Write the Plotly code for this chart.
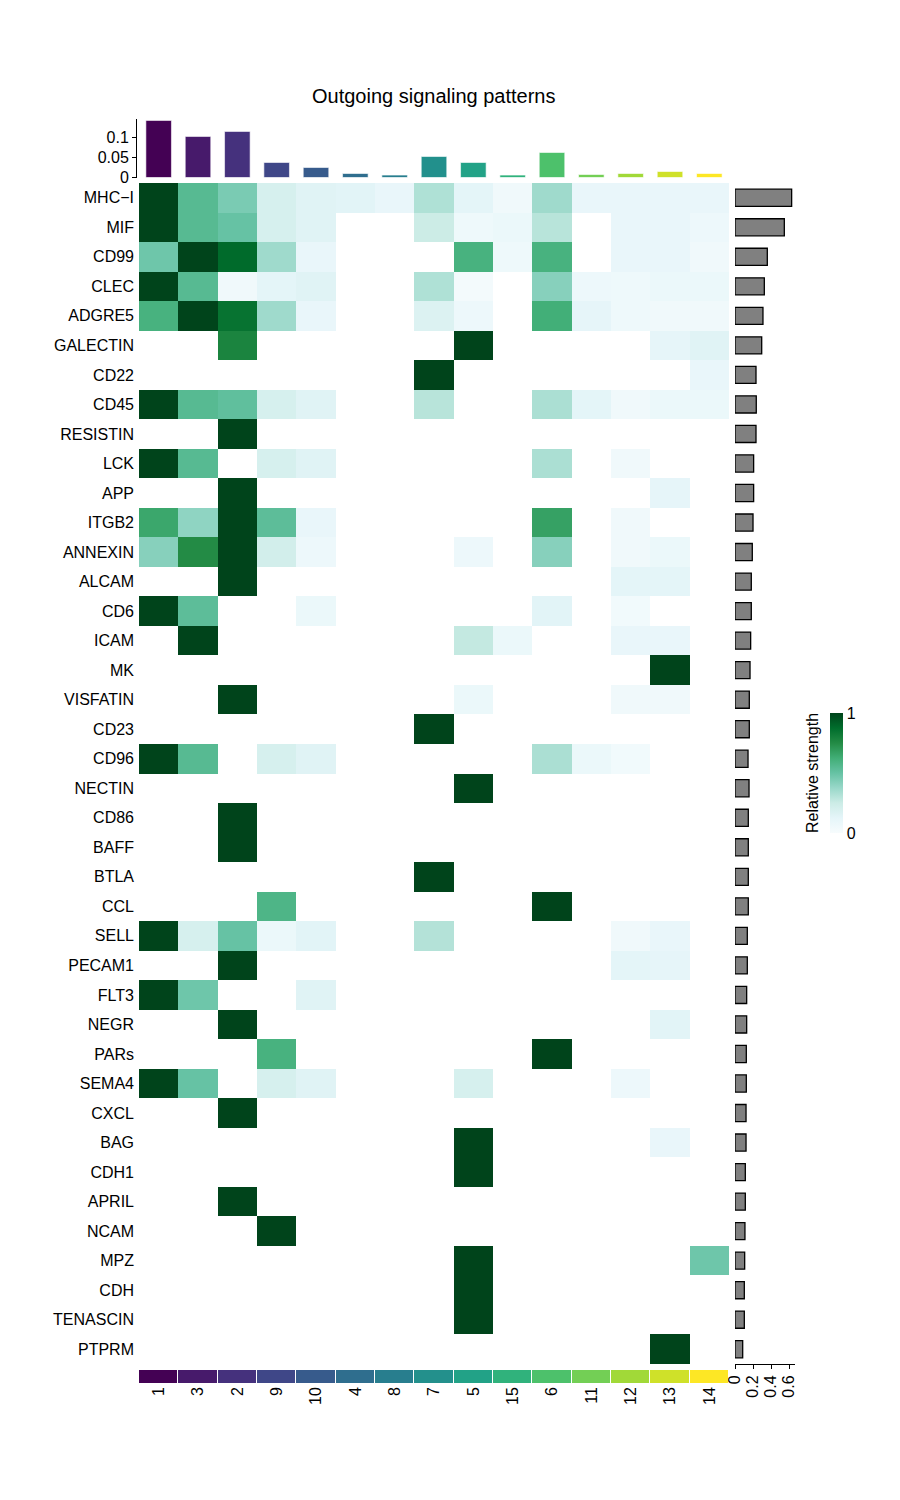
import plotly.graph_objects as go
from plotly.colors import sample_colorscale

# ---------------- data ----------------
clusters = ["1", "3", "2", "9", "10", "4", "8", "7", "5", "15", "6", "11", "12", "13", "14"]

pathways = ["MHC−I", "MIF", "CD99", "CLEC", "ADGRE5", "GALECTIN", "CD22", "CD45", "RESISTIN",
            "LCK", "APP", "ITGB2", "ANNEXIN", "ALCAM", "CD6", "ICAM", "MK", "VISFATIN", "CD23",
            "CD96", "NECTIN", "CD86", "BAFF", "BTLA", "CCL", "SELL", "PECAM1", "FLT3", "NEGR",
            "PARs", "SEMA4", "CXCL", "BAG", "CDH1", "APRIL", "NCAM", "MPZ", "CDH", "TENASCIN",
            "PTPRM"]

# total outgoing strength per cluster (top bars)
cluster_strength = [0.1425, 0.1025, 0.115, 0.0375, 0.025, 0.01, 0.006, 0.0525,
                    0.0375, 0.006, 0.0625, 0.0075, 0.01, 0.015, 0.01]

# total strength per pathway (right bars)
pathway_strength = [0.626, 0.545, 0.357, 0.324, 0.309, 0.295, 0.232, 0.235, 0.232,
                    0.206, 0.206, 0.199, 0.191, 0.18, 0.18, 0.173, 0.166, 0.158, 0.158,
                    0.144, 0.155, 0.147, 0.147, 0.147, 0.147, 0.136, 0.136, 0.129, 0.129,
                    0.125, 0.125, 0.122, 0.122, 0.114, 0.114, 0.11, 0.107, 0.103, 0.103,
                    0.085]

# relative strength (rows = pathways, columns = clusters in the order above); 0 = blank
relative_strength = [
    [1.0, 0.55, 0.45, 0.2, 0.15, 0.14, 0.1, 0.32, 0.13, 0.05, 0.36, 0.1, 0.1, 0.1, 0.1],   # MHC-I
    [1.0, 0.55, 0.5, 0.2, 0.15, 0, 0, 0.25, 0.06, 0.08, 0.3, 0, 0.1, 0.1, 0.07],          # MIF
    [0.48, 1.0, 0.88, 0.36, 0.1, 0, 0, 0, 0.6, 0.06, 0.6, 0, 0.1, 0.1, 0.05],            # CD99
    [1.0, 0.55, 0.05, 0.13, 0.15, 0, 0, 0.32, 0.03, 0, 0.42, 0.07, 0.06, 0.08, 0.08],    # CLEC
    [0.6, 1.0, 0.85, 0.36, 0.1, 0, 0, 0.17, 0.07, 0, 0.62, 0.12, 0.06, 0.05, 0.05],      # ADGRE5
    [0, 0, 0.78, 0, 0, 0, 0, 0, 1.0, 0, 0, 0, 0, 0.12, 0.15],                            # GALECTIN
    [0, 0, 0, 0, 0, 0, 0, 1.0, 0, 0, 0, 0, 0, 0, 0.1],                                   # CD22
    [1.0, 0.55, 0.52, 0.2, 0.15, 0, 0, 0.3, 0, 0, 0.33, 0.13, 0.05, 0.08, 0.08],         # CD45
    [0, 0, 1.0, 0, 0, 0, 0, 0, 0, 0, 0, 0, 0, 0, 0],                                     # RESISTIN
    [1.0, 0.55, 0, 0.2, 0.15, 0, 0, 0, 0, 0, 0.33, 0, 0.05, 0, 0],                       # LCK
    [0, 0, 1.0, 0, 0, 0, 0, 0, 0, 0, 0, 0, 0, 0.12, 0],                                  # APP
    [0.65, 0.4, 1.0, 0.53, 0.1, 0, 0, 0, 0, 0, 0.67, 0, 0.05, 0, 0],                     # ITGB2
    [0.42, 0.75, 1.0, 0.22, 0.07, 0, 0, 0, 0.07, 0, 0.42, 0, 0.05, 0.08, 0],             # ANNEXIN
    [0, 0, 1.0, 0, 0, 0, 0, 0, 0, 0, 0, 0, 0.13, 0.13, 0],                               # ALCAM
    [1.0, 0.53, 0, 0, 0.08, 0, 0, 0, 0, 0, 0.14, 0, 0.04, 0, 0],                         # CD6
    [0, 1.0, 0, 0, 0, 0, 0, 0, 0.27, 0.08, 0, 0, 0.1, 0.1, 0],                           # ICAM
    [0, 0, 0, 0, 0, 0, 0, 0, 0, 0, 0, 0, 0, 1.0, 0],                                     # MK
    [0, 0, 1.0, 0, 0, 0, 0, 0, 0.08, 0, 0, 0, 0.05, 0.05, 0],                            # VISFATIN
    [0, 0, 0, 0, 0, 0, 0, 1.0, 0, 0, 0, 0, 0, 0, 0],                                     # CD23
    [1.0, 0.55, 0, 0.2, 0.15, 0, 0, 0, 0, 0, 0.33, 0.08, 0.04, 0, 0],                    # CD96
    [0, 0, 0, 0, 0, 0, 0, 0, 1.0, 0, 0, 0, 0, 0, 0],                                     # NECTIN
    [0, 0, 1.0, 0, 0, 0, 0, 0, 0, 0, 0, 0, 0, 0, 0],                                     # CD86
    [0, 0, 1.0, 0, 0, 0, 0, 0, 0, 0, 0, 0, 0, 0, 0],                                     # BAFF
    [0, 0, 0, 0, 0, 0, 0, 1.0, 0, 0, 0, 0, 0, 0, 0],                                     # BTLA
    [0, 0, 0, 0.58, 0, 0, 0, 0, 0, 0, 1.0, 0, 0, 0, 0],                                  # CCL
    [1.0, 0.2, 0.5, 0.08, 0.14, 0, 0, 0.31, 0, 0, 0, 0, 0.05, 0.1, 0],                   # SELL
    [0, 0, 1.0, 0, 0, 0, 0, 0, 0, 0, 0, 0, 0.13, 0.12, 0],                               # PECAM1
    [1.0, 0.48, 0, 0, 0.15, 0, 0, 0, 0, 0, 0, 0, 0, 0, 0],                               # FLT3
    [0, 0, 1.0, 0, 0, 0, 0, 0, 0, 0, 0, 0, 0, 0.14, 0],                                  # NEGR
    [0, 0, 0, 0.6, 0, 0, 0, 0, 0, 0, 1.0, 0, 0, 0, 0],                                   # PARs
    [1.0, 0.5, 0, 0.2, 0.15, 0, 0, 0, 0.2, 0, 0, 0, 0.07, 0, 0],                         # SEMA4
    [0, 0, 1.0, 0, 0, 0, 0, 0, 0, 0, 0, 0, 0, 0, 0],                                     # CXCL
    [0, 0, 0, 0, 0, 0, 0, 0, 1.0, 0, 0, 0, 0, 0.1, 0],                                   # BAG
    [0, 0, 0, 0, 0, 0, 0, 0, 1.0, 0, 0, 0, 0, 0, 0],                                     # CDH1
    [0, 0, 1.0, 0, 0, 0, 0, 0, 0, 0, 0, 0, 0, 0, 0],                                     # APRIL
    [0, 0, 0, 1.0, 0, 0, 0, 0, 0, 0, 0, 0, 0, 0, 0],                                     # NCAM
    [0, 0, 0, 0, 0, 0, 0, 0, 1.0, 0, 0, 0, 0, 0, 0.48],                                  # MPZ
    [0, 0, 0, 0, 0, 0, 0, 0, 1.0, 0, 0, 0, 0, 0, 0],                                     # CDH
    [0, 0, 0, 0, 0, 0, 0, 0, 1.0, 0, 0, 0, 0, 0, 0],                                     # TENASCIN
    [0, 0, 0, 0, 0, 0, 0, 0, 0, 0, 0, 0, 0, 1.0, 0],                                     # PTPRM
]

# ---------------- styling ----------------
FONT = "Liberation Sans, Arial, Helvetica, sans-serif"
W, H = 900, 1500


def px_x(p):
    return p / W


def px_y(p):
    return 1 - p / H


bugn = [[0.0, "#F7FCFD"], [0.125, "#E5F5F9"], [0.25, "#CCECE6"], [0.375, "#99D8C9"],
        [0.5, "#66C2A4"], [0.625, "#41AE76"], [0.75, "#238B45"], [0.875, "#006D2C"],
        [1.0, "#00441B"]]
cluster_colors = sample_colorscale("Viridis", [i / (len(clusters) - 1) for i in range(len(clusters))])

z = [[(v if v > 0 else None) for v in row] for row in relative_strength]

hm_x = [px_x(139), px_x(729)]
hm_y = [px_y(1364), px_y(183)]

fig = go.Figure()

# main heatmap
fig.add_trace(go.Heatmap(
    z=z, x=clusters, y=pathways, colorscale=bugn, zmin=0, zmax=1,
    xaxis="x", yaxis="y", hoverongaps=False,
    colorbar=dict(
        x=px_x(830), xanchor="left", y=px_y(773), yanchor="middle",
        len=120, lenmode="pixels", thickness=13, thicknessmode="pixels",
        outlinewidth=0, tickvals=[0, 1], ticktext=["0", "1"], ticks="",
        tickfont=dict(size=16, color="black", family=FONT), xpad=0, ypad=0,
    ),
))

# top bars
fig.add_trace(go.Bar(
    x=clusters, y=cluster_strength, marker=dict(color=cluster_colors, line=dict(color="white", width=0.6)),
    width=0.65, xaxis="x2", yaxis="y2", showlegend=False,
))

# right bars
fig.add_trace(go.Bar(
    x=pathway_strength, y=pathways, orientation="h",
    marker=dict(color="#808080", line=dict(color="black", width=1.3)),
    width=0.58, xaxis="x3", yaxis="y3", showlegend=False,
))

# bottom color strip
fig.add_trace(go.Heatmap(
    z=[list(range(len(clusters)))], x=clusters, y=["cluster"],
    colorscale="Viridis", zmin=0, zmax=len(clusters) - 1, showscale=False,
    xgap=1, xaxis="x4", yaxis="y4",
))

common = dict(automargin=False, showgrid=False, zeroline=False)

fig.update_layout(
    width=W, height=H, margin=dict(l=0, r=0, t=0, b=0, autoexpand=False),
    paper_bgcolor="white", plot_bgcolor="white", showlegend=False,
    font=dict(family=FONT, size=16, color="black"),
    xaxis=dict(domain=hm_x, anchor="y", type="category", categoryorder="array",
               categoryarray=clusters, showticklabels=False, ticks="", **common),
    yaxis=dict(domain=hm_y, anchor="x", type="category", categoryorder="array",
               categoryarray=pathways, autorange="reversed", ticks="",
               ticklabelstandoff=4, tickfont=dict(size=16, color="black"), **common),
    xaxis2=dict(domain=hm_x, anchor="y2", type="category", categoryorder="array",
                categoryarray=clusters, range=[-0.5, len(clusters) - 0.5],
                showticklabels=False, ticks="", **common),
    yaxis2=dict(domain=[px_y(177.5), px_y(119)], anchor="free", position=px_x(136),
                range=[0, 0.146], tickvals=[0, 0.05, 0.1], ticktext=["0", "0.05", "0.1"],
                ticks="outside", ticklen=4, tickcolor="black", showline=True,
                linecolor="black", linewidth=1,
                tickfont=dict(size=16, color="black"), **common),
    xaxis3=dict(domain=[px_x(735), px_x(795)], anchor="y3", range=[0, 0.663],
                tickvals=[0, 0.2, 0.4, 0.6], ticktext=["0", "0.2", "0.4", "0.6"],
                tickangle=-90, ticks="outside", ticklen=4, tickcolor="black",
                showline=True, linecolor="black", linewidth=1,
                tickfont=dict(size=16, color="black"), **common),
    yaxis3=dict(domain=hm_y, anchor="x3", type="category", categoryorder="array",
                categoryarray=pathways, autorange="reversed", showticklabels=False,
                ticks="", **common),
    xaxis4=dict(domain=hm_x, anchor="y4", type="category", categoryorder="array",
                categoryarray=clusters, tickangle=-90, ticks="",
                tickfont=dict(size=16, color="black"), **common),
    yaxis4=dict(domain=[px_y(1383), px_y(1370)], anchor="x4", showticklabels=False,
                ticks="", **common),
    annotations=[
        dict(text="Outgoing signaling patterns", x=px_x(434), y=px_y(96),
             xref="paper", yref="paper", xanchor="center", yanchor="middle",
             showarrow=False, font=dict(size=20, color="black")),
        dict(text="Relative strength", x=px_x(812), y=px_y(773),
             xref="paper", yref="paper", xanchor="center", yanchor="middle",
             textangle=-90, showarrow=False, font=dict(size=16, color="black")),
    ],
)

fig.write_html("out.html")
